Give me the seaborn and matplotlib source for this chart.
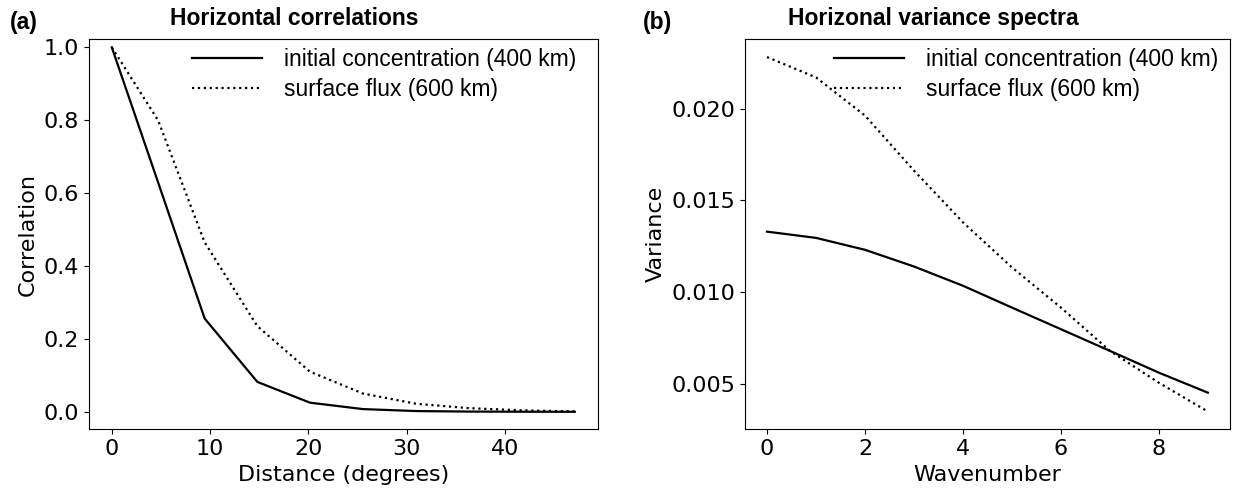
import numpy as np
import pandas as pd
import seaborn as sns
import matplotlib
matplotlib.use('Agg')
import matplotlib.pyplot as plt

plt.rcParams['font.family'] = ['DejaVu Sans']

# === Data ===
distance = [0, 4.7, 9.44, 14.8, 20.15, 25.55, 30.95, 36.3, 41.7, 47.08]
corr_initial = [1.0, 0.63, 0.256, 0.082, 0.025, 0.0074, 0.002, 0.0006, 0.0002, 0.0]
corr_flux = [1.0, 0.80, 0.465, 0.235, 0.11, 0.05, 0.022, 0.01, 0.004, 0.001]

wavenumber = [0, 1, 2, 3, 4, 5, 6, 7, 8, 9]
var_initial = [0.01329, 0.01295, 0.0123, 0.01139, 0.01034, 0.00915, 0.00797, 0.00679, 0.0056, 0.00451]
var_flux = [0.02281, 0.0217, 0.01962, 0.01662, 0.0138, 0.01134, 0.00915, 0.00679, 0.00505, 0.00348]

label_initial = "initial concentration (400 km)"
label_flux = "surface flux (600 km)"

sans = 'Liberation Sans'
fs = 16

fig = plt.figure(figsize=(12.47, 4.94), dpi=100)
ax_a = fig.add_axes([0.0711, 0.131, 0.4084, 0.7894])
ax_b = fig.add_axes([0.5974, 0.131, 0.3889, 0.7894])

# === (a) correlations ===
sns.lineplot(x=distance, y=corr_initial, ax=ax_a, color='black', lw=1.6, label=label_initial)
sns.lineplot(x=distance, y=corr_flux, ax=ax_a, color='black', lw=1.6, linestyle=':', label=label_flux)
ax_a.set_ylim(-0.048, 1.022)
ax_a.set_xlabel("Distance (degrees)", fontsize=fs)
ax_a.set_ylabel("Correlation", fontsize=fs)
ax_a.set_title("Horizontal correlations", fontsize=16.5, fontweight='bold', family=sans,
               x=0.16, ha='left', pad=10)

# === (b) spectra ===
sns.lineplot(x=wavenumber, y=var_initial, ax=ax_b, color='black', lw=1.6, label=label_initial)
sns.lineplot(x=wavenumber, y=var_flux, ax=ax_b, color='black', lw=1.6, linestyle=':', label=label_flux)
ax_b.set_yticks([0.005, 0.010, 0.015, 0.020])
ax_b.set_xticks([0, 2, 4, 6, 8])
ax_b.set_xlabel("Wavenumber", fontsize=fs)
ax_b.set_ylabel("Variance", fontsize=fs)
ax_b.set_title("Horizonal variance spectra", fontsize=16.5, fontweight='bold', family=sans,
               x=0.089, ha='left', pad=10)

# legend anchors (axes fraction) so the text ends where it does in the original
for ax, anchor in ((ax_a, (0.975, 1.0)), (ax_b, (0.995, 1.0))):
    ax.tick_params(labelsize=fs)
    ax.legend(loc='upper right', bbox_to_anchor=anchor, frameon=False,
              prop={'family': sans, 'size': 16.5},
              handlelength=3.05, handletextpad=0.96, labelspacing=0.3,
              borderpad=0.1, borderaxespad=0.3)

fig.text(10 / 1247, 0.955, "(a)", fontsize=16.5, fontweight='bold', family=sans, va='center')
fig.text(643 / 1247, 0.955, "(b)", fontsize=16.5, fontweight='bold', family=sans, va='center')

plt.savefig("out.png", dpi=100)
